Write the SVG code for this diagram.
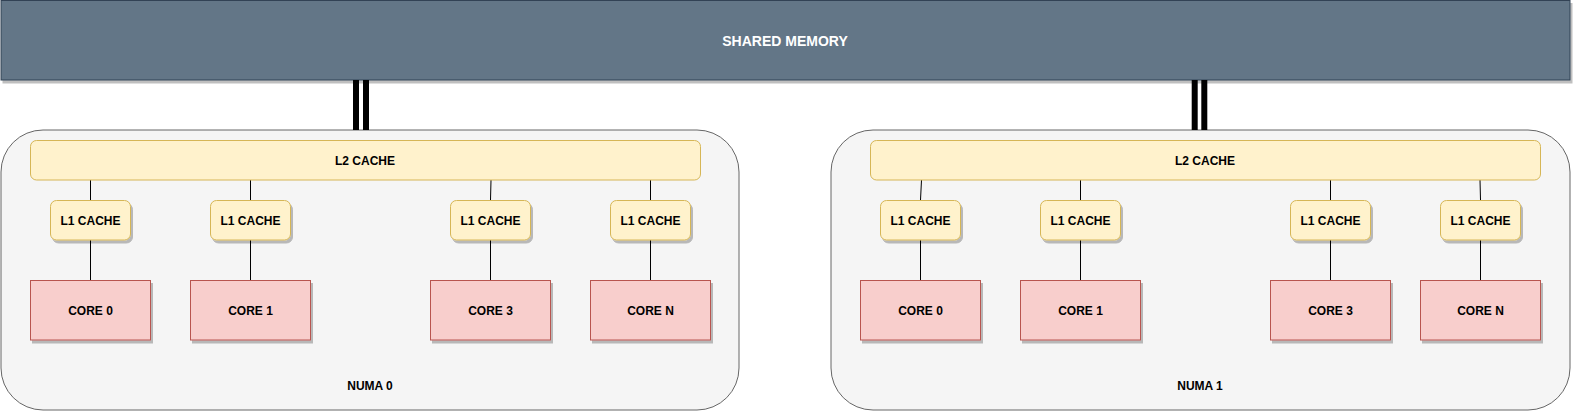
<svg xmlns="http://www.w3.org/2000/svg" width="1573" height="411" viewBox="0 0 1573 411">
<defs>
<filter id="sh" x="-5%" y="-5%" width="115%" height="130%">
<feDropShadow dx="2" dy="3" stdDeviation="0.6" flood-color="#000" flood-opacity="0.25"/>
</filter>
<style>
text{font-family:"Liberation Sans",Arial,sans-serif;font-weight:bold;font-size:12px;text-anchor:middle;fill:#000}
.mem{fill:#647687;stroke:#314354;stroke-width:1}
.memt{fill:#fff;font-size:14px}
.numa{fill:#f5f5f5;stroke:#666;stroke-width:1}
.l2{fill:#fff2cc;stroke:#d6b656;stroke-width:1}
.l1{fill:#fff2cc;stroke:#d6b656;stroke-width:1;filter:url(#sh)}
.core{fill:#f8cecc;stroke:#b85450;stroke-width:1;filter:url(#sh)}
.ln{stroke:#000;stroke-width:1;fill:none}
.link{stroke:#000;stroke-width:6;fill:none}
</style>
</defs>

<g id="shared-memory">
<rect class="mem" x="1" y="0.5" width="1569" height="79.5" filter="url(#sh)"/>
<text class="memt" x="785" y="46.3">SHARED MEMORY</text>
</g>

<g id="numa0">
<rect class="numa" x="1" y="130" width="738" height="280" rx="42" ry="42"/>
<text x="370" y="389.8">NUMA 0</text>
</g>
<g id="numa1">
<rect class="numa" x="831" y="130" width="739" height="280" rx="42" ry="42"/>
<text x="1200" y="389.8">NUMA 1</text>
</g>

<g id="connectors">
<line class="link" x1="356" y1="80" x2="356" y2="130"/>
<line class="link" x1="366" y1="80" x2="366" y2="130"/>
<line class="link" x1="1194.7" y1="80" x2="1194.7" y2="130"/>
<line class="link" x1="1204.3" y1="80" x2="1204.3" y2="130"/>

<line class="ln" x1="90.5" y1="180" x2="90.5" y2="200"/>
<line class="ln" x1="250.5" y1="180" x2="250.5" y2="200"/>
<line class="ln" x1="491" y1="180" x2="490.5" y2="200"/>
<line class="ln" x1="650.5" y1="180" x2="650.5" y2="200"/>
<line class="ln" x1="90.5" y1="240" x2="90.5" y2="280"/>
<line class="ln" x1="250.5" y1="240" x2="250.5" y2="280"/>
<line class="ln" x1="490.5" y1="240" x2="490.5" y2="280"/>
<line class="ln" x1="650.5" y1="240" x2="650.5" y2="280"/>

<line class="ln" x1="921.5" y1="180" x2="920.5" y2="200"/>
<line class="ln" x1="1080.5" y1="180" x2="1080.5" y2="200"/>
<line class="ln" x1="1330.5" y1="180" x2="1330.5" y2="200"/>
<line class="ln" x1="1480" y1="180" x2="1480.5" y2="200"/>
<line class="ln" x1="920.5" y1="240" x2="920.5" y2="280"/>
<line class="ln" x1="1080.5" y1="240" x2="1080.5" y2="280"/>
<line class="ln" x1="1330.5" y1="240" x2="1330.5" y2="280"/>
<line class="ln" x1="1480.5" y1="240" x2="1480.5" y2="280"/>
</g>

<g id="numa0-l2"><rect class="l2" x="30.5" y="140.5" width="670" height="39.5" rx="6"/><text x="365" y="165">L2 CACHE</text></g>
<g id="numa0-l1-0"><rect class="l1" x="50.5" y="200.5" width="80" height="39.5" rx="6"/><text x="90.5" y="225.2">L1 CACHE</text></g>
<g id="numa0-l1-1"><rect class="l1" x="210.5" y="200.5" width="80" height="39.5" rx="6"/><text x="250.5" y="225.2">L1 CACHE</text></g>
<g id="numa0-l1-3"><rect class="l1" x="450.5" y="200.5" width="80" height="39.5" rx="6"/><text x="490.5" y="225.2">L1 CACHE</text></g>
<g id="numa0-l1-n"><rect class="l1" x="610.5" y="200.5" width="80" height="39.5" rx="6"/><text x="650.5" y="225.2">L1 CACHE</text></g>
<g id="numa0-core0"><rect class="core" x="30.5" y="280.5" width="120" height="59.5"/><text x="90.5" y="315">CORE 0</text></g>
<g id="numa0-core1"><rect class="core" x="190.5" y="280.5" width="120" height="59.5"/><text x="250.5" y="315">CORE 1</text></g>
<g id="numa0-core3"><rect class="core" x="430.5" y="280.5" width="120" height="59.5"/><text x="490.5" y="315">CORE 3</text></g>
<g id="numa0-coren"><rect class="core" x="590.5" y="280.5" width="120" height="59.5"/><text x="650.5" y="315">CORE N</text></g>

<g id="numa1-l2"><rect class="l2" x="870.5" y="140.5" width="670" height="39.5" rx="6"/><text x="1205" y="165">L2 CACHE</text></g>
<g id="numa1-l1-0"><rect class="l1" x="880.5" y="200.5" width="80" height="39.5" rx="6"/><text x="920.5" y="225.2">L1 CACHE</text></g>
<g id="numa1-l1-1"><rect class="l1" x="1040.5" y="200.5" width="80" height="39.5" rx="6"/><text x="1080.5" y="225.2">L1 CACHE</text></g>
<g id="numa1-l1-3"><rect class="l1" x="1290.5" y="200.5" width="80" height="39.5" rx="6"/><text x="1330.5" y="225.2">L1 CACHE</text></g>
<g id="numa1-l1-n"><rect class="l1" x="1440.5" y="200.5" width="80" height="39.5" rx="6"/><text x="1480.5" y="225.2">L1 CACHE</text></g>
<g id="numa1-core0"><rect class="core" x="860.5" y="280.5" width="120" height="59.5"/><text x="920.5" y="315">CORE 0</text></g>
<g id="numa1-core1"><rect class="core" x="1020.5" y="280.5" width="120" height="59.5"/><text x="1080.5" y="315">CORE 1</text></g>
<g id="numa1-core3"><rect class="core" x="1270.5" y="280.5" width="120" height="59.5"/><text x="1330.5" y="315">CORE 3</text></g>
<g id="numa1-coren"><rect class="core" x="1420.5" y="280.5" width="120" height="59.5"/><text x="1480.5" y="315">CORE N</text></g>
</svg>
